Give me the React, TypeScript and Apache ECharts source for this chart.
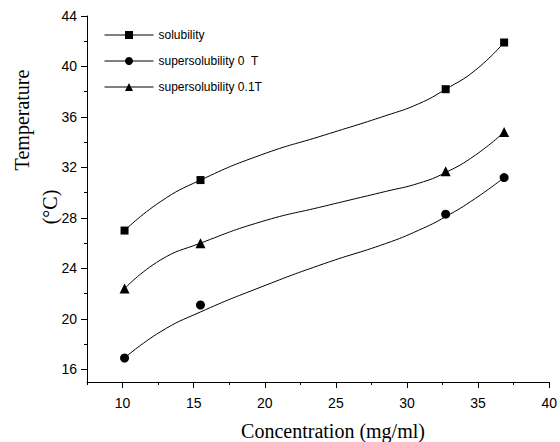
import React, { useEffect, useRef } from "react";
import * as echarts from "echarts";

// Measured points
const concentration = [10.14, 15.48, 32.72, 36.83];
const solubility = [27.0, 31.0, 38.2, 41.9];
const supersolubility0T = [16.9, 21.1, 28.3, 31.2];
const supersolubility01T = [22.4, 26.0, 31.7, 34.8];

// Fitted curves
const fitConcentration = [10.14, 12.64, 15.48, 19.75, 24.18, 28.5, 30.83, 32.72, 34.8, 36.83];
const solubilityFit = [27.0, 29.27, 31.0, 33.0, 34.56, 36.1, 37.05, 38.2, 39.7, 41.9];
const supersolubility0TFit = [16.9, 18.96, 20.55, 22.53, 24.38, 25.97, 27.03, 28.1, 29.54, 31.2];
const supersolubility01TFit = [22.4, 24.65, 26.0, 27.7, 28.93, 30.1, 30.75, 31.6, 32.97, 34.8];

const seriesNames = ["solubility", "supersolubility 0  T", "supersolubility 0.1T"];

// Axis ticks
const xMajorTicks = [10, 15, 20, 25, 30, 35, 40];
const xMinorTicks = [7.5, 12.5, 17.5, 22.5, 27.5, 32.5, 37.5];
const yMajorTicks = [16, 20, 24, 28, 32, 36, 40, 44];
const yMinorTicks = [18, 22, 26, 30, 34, 38, 42];

const SANS = "Arial, 'Liberation Sans', sans-serif";
const SERIF = "'Times New Roman', 'Liberation Serif', serif";

const zip = (xs: number[], ys: number[]) => xs.map((x, i) => [x, ys[i]]);

export default function App() {
  const ref = useRef<HTMLDivElement>(null);
  useEffect(() => {
    document.body.style.margin = "0";
    const chart = echarts.init(ref.current!, null, { renderer: "svg" });
    const axisCommon = {
      type: "value" as const,
      splitLine: { show: false },
      axisLine: { show: true, lineStyle: { color: "#000", width: 1 } },
    };
    const fits = [solubilityFit, supersolubility0TFit, supersolubility01TFit];
    const marks = [solubility, supersolubility0T, supersolubility01T];
    const symbols = ["rect", "circle", "triangle"];
    const sizes = [8, 9, 10];
    chart.setOption({
      animation: false,
      backgroundColor: "#fff",
      grid: { left: 87, right: 9, top: 16, bottom: 60, containLabel: false },
      legend: {
        data: seriesNames,
        orient: "vertical",
        left: 104,
        top: 29,
        padding: 0,
        itemWidth: 49,
        itemHeight: 10,
        itemGap: 14,
        textStyle: { fontFamily: SANS, fontSize: 12, color: "#000" },
        lineStyle: { color: "#000", width: 1, opacity: 1 },
        itemStyle: { color: "#000" },
        selectedMode: false,
      },
      xAxis: [
        {
          ...axisCommon,
          min: 7.5,
          max: 40,
          position: "bottom",
          axisTick: { show: true, inside: false, length: 6, customValues: xMajorTicks, lineStyle: { color: "#000" } },
          axisLabel: { customValues: xMajorTicks, fontFamily: SANS, fontSize: 14, color: "#000", margin: 14 },
        },
        {
          ...axisCommon,
          min: 7.5,
          max: 40,
          position: "bottom",
          axisLine: { show: false },
          axisTick: { show: true, inside: false, length: 3, customValues: xMinorTicks, lineStyle: { color: "#000" } },
          axisLabel: { show: false },
        },
      ],
      yAxis: [
        {
          ...axisCommon,
          min: 15,
          max: 44,
          position: "left",
          axisTick: { show: true, inside: false, length: 6, customValues: yMajorTicks, lineStyle: { color: "#000" } },
          axisLabel: { customValues: yMajorTicks, fontFamily: SANS, fontSize: 14, color: "#000", margin: 10 },
        },
        {
          ...axisCommon,
          min: 15,
          max: 44,
          position: "left",
          offset: 0,
          axisLine: { show: false },
          axisTick: { show: true, inside: false, length: 3, customValues: yMinorTicks, lineStyle: { color: "#000" } },
          axisLabel: { show: false },
        },
      ],
      graphic: [
        {
          type: "text",
          x: 22,
          y: 120,
          rotation: Math.PI / 2,
          style: { text: "Temperature", fontFamily: SERIF, fontSize: 20, fill: "#000", align: "center", verticalAlign: "middle" },
        },
        {
          type: "text",
          x: 50,
          y: 207,
          rotation: Math.PI / 2,
          style: { text: "(°C)", fontFamily: SERIF, fontSize: 20, fill: "#000", align: "center", verticalAlign: "middle" },
        },
        {
          type: "text",
          x: 333,
          y: 431,
          style: { text: "Concentration (mg/ml)", fontFamily: SERIF, fontSize: 20, fill: "#000", align: "center", verticalAlign: "middle" },
        },
      ],
      series: [
        ...fits.map((f, i) => ({
          name: seriesNames[i] + " fit",
          type: "line",
          xAxisIndex: 0,
          yAxisIndex: 0,
          smooth: 0.5,
          showSymbol: false,
          symbol: "none",
          data: zip(fitConcentration, f),
          lineStyle: { color: "#000", width: 1 },
          itemStyle: { color: "#000" },
          silent: true,
        })),
        ...marks.map((m, i) => ({
          name: seriesNames[i],
          type: "line",
          xAxisIndex: 0,
          yAxisIndex: 0,
          symbol: symbols[i],
          symbolSize: sizes[i],
          showSymbol: true,
          data: zip(concentration, m),
          lineStyle: { color: "#000", width: 1, opacity: 0 },
          itemStyle: { color: "#000" },
          z: 5,
        })),
      ],
    });
    return () => chart.dispose();
  }, []);
  return <div ref={ref} style={{ width: 560, height: 442 }} />;
}
